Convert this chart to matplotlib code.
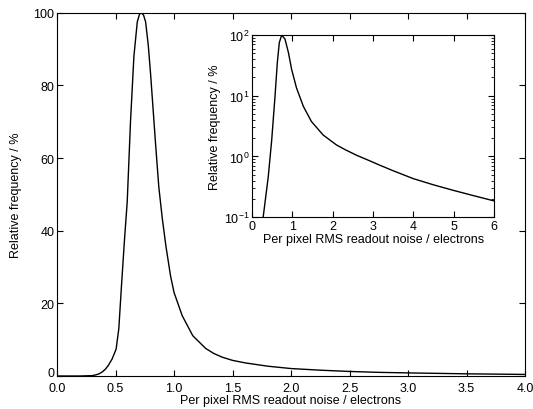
import numpy as np
import matplotlib
matplotlib.use("Agg")
import matplotlib.pyplot as plt
from matplotlib.ticker import LogLocator, MultipleLocator, FormatStrFormatter, FuncFormatter

plt.rcParams['font.family'] = ['Liberation Sans', 'DejaVu Sans']
plt.rcParams['mathtext.fontset'] = 'custom'
plt.rcParams['mathtext.rm'] = 'Liberation Sans'
plt.rcParams['mathtext.it'] = 'Liberation Sans'
plt.rcParams['font.size'] = 9

# main panel: noise distribution
noise = [0.0, 0.2, 0.3, 0.33, 0.36, 0.39, 0.414, 0.44, 0.471, 0.505, 0.528,
         0.551, 0.577, 0.60, 0.628, 0.657, 0.686, 0.705, 0.722, 0.74, 0.757,
         0.78, 0.80, 0.842, 0.87, 0.90, 0.93, 0.97, 1.0, 1.07, 1.16, 1.27,
         1.34, 1.41, 1.5, 1.61, 1.8, 2.0, 2.25, 2.5, 2.75, 3.0, 3.5, 4.0]
freq = [0.0, 0.0, 0.1, 0.3, 0.6, 1.2, 1.9, 3.0, 4.7, 7.4, 13.0,
        24.9, 37.7, 48.0, 70.0, 88.0, 97.5, 99.6, 100.0, 99.3, 97.5,
        91.0, 83.0, 64.0, 52.0, 43.3, 35.9, 27.6, 23.0, 16.6, 11.1, 7.6,
        6.2, 5.2, 4.3, 3.6, 2.7, 2.05, 1.6, 1.25, 1.0, 0.85, 0.6, 0.43]

# inset panel (log scale)
inset_noise = [0.27, 0.40, 0.486, 0.568, 0.625, 0.674, 0.733, 0.815, 0.90,
               0.98, 1.10, 1.27, 1.47, 1.76, 2.09, 2.3, 2.585, 2.91, 3.16,
               3.5, 4.0, 4.5, 5.0, 5.5, 6.0]
inset_freq = [0.095, 0.46, 1.87, 9.8, 35.0, 75.0, 100.0, 86.0, 51.6,
              27.2, 13.5, 6.7, 3.77, 2.26, 1.55, 1.3, 1.05, 0.85, 0.72,
              0.58, 0.43, 0.34, 0.275, 0.225, 0.185]

fig = plt.figure(figsize=(5.33, 4.10), dpi=100)
ax = fig.add_axes([0.107, 0.0805, 0.878, 0.886])
ax.plot(noise, freq, color='black', lw=1.0)
ax.set_xlim(0, 4)
ax.set_ylim(0, 100)
ax.xaxis.set_major_locator(MultipleLocator(0.5))
ax.xaxis.set_major_formatter(FormatStrFormatter('%.1f'))
ax.yaxis.set_major_locator(MultipleLocator(20))
# the "0" of the y axis is written separately, lifted a little above "0.0"
ax.yaxis.set_major_formatter(FuncFormatter(lambda v, p: '' if v == 0 else '%d' % v))
ax.annotate('0', xy=(0, 0), xycoords='data', xytext=(-2, 2.5),
            textcoords='offset points', ha='right', va='center', fontsize=9)
ax.tick_params(direction='in', top=True, right=True, length=4, width=0.8, pad=2)
ax.tick_params(axis='x', pad=4)
ax.set_xlabel('Per pixel RMS readout noise / electrons', labelpad=0.2)
ax.set_ylabel('Relative frequency / %', labelpad=8)

ins = fig.add_axes([0.473, 0.468, 0.454, 0.444])
ins.plot(inset_noise, inset_freq, color='black', lw=1.0)
ins.set_yscale('log')
ins.set_xlim(0, 6)
ins.set_ylim(0.1, 100)
ins.xaxis.set_major_locator(MultipleLocator(1))
ins.yaxis.set_major_locator(LogLocator(base=10, numticks=10))
ins.yaxis.set_minor_locator(LogLocator(base=10, subs=np.arange(2, 10), numticks=10))
ins.tick_params(which='major', direction='in', top=True, right=True, length=4, width=0.8, pad=2)
ins.tick_params(which='minor', direction='in', right=True, length=2, width=0.6)
ins.set_xlabel('Per pixel RMS readout noise / electrons', labelpad=1)
ins.set_ylabel('Relative frequency / %', labelpad=2)

fig.savefig('out.png', dpi=100)
